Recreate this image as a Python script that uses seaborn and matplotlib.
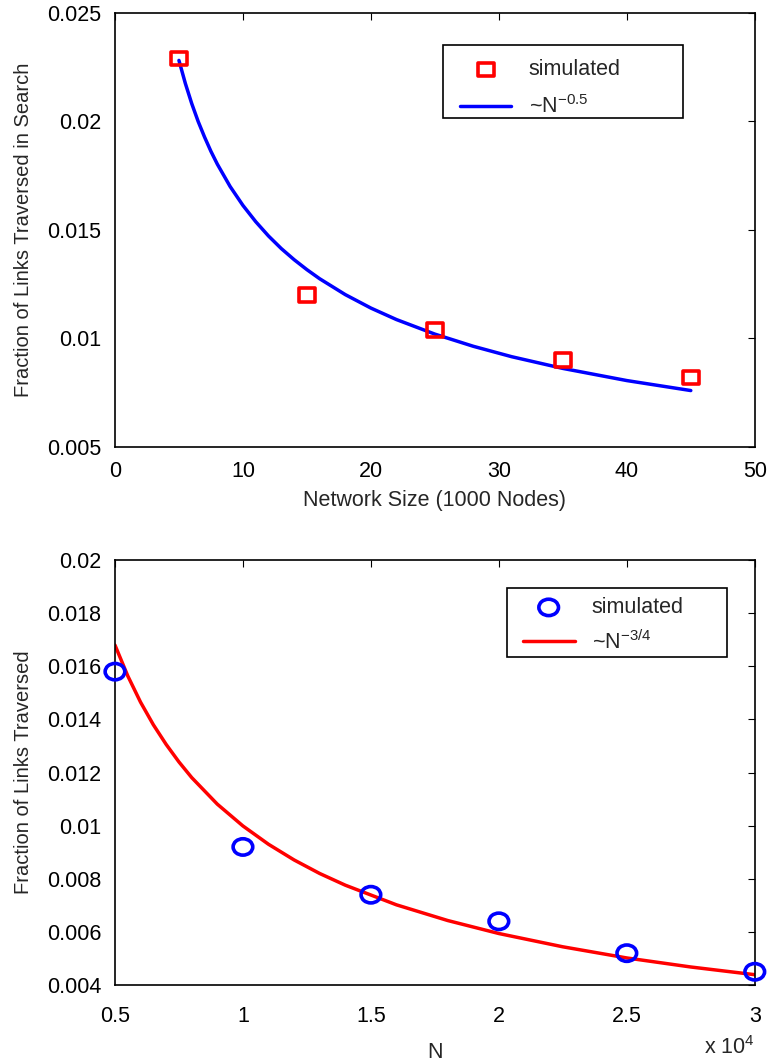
import numpy as np
import pandas as pd
import matplotlib
matplotlib.use("Agg")
import matplotlib.pyplot as plt
import seaborn as sns
from matplotlib.path import Path
from matplotlib.transforms import Affine2D
from matplotlib.patches import Rectangle

# top panel: network size in thousands of nodes
top_sim_x = [5, 15, 25, 35, 45]
top_sim_y = [0.0229, 0.0120, 0.0104, 0.0090, 0.0082]
top_fit_x = [5, 5.5, 6, 6.5, 7, 7.5, 8, 9, 10, 11, 12, 13, 14, 15, 16,
             18, 20, 22, 25, 28, 31, 35, 40, 45]
top_fit_y = [0.02281, 0.02175, 0.02082, 0.02000, 0.01928, 0.01862, 0.01803,
             0.01700, 0.01613, 0.01538, 0.01472, 0.01414, 0.01363, 0.01317,
             0.01275, 0.01202, 0.01140, 0.01087, 0.01020, 0.00964, 0.00916,
             0.00862, 0.00806, 0.00760]

# bottom panel: N
bot_sim_x = [5000, 10000, 15000, 20000, 25000, 30000]
bot_sim_y = [0.0158, 0.0092, 0.0074, 0.0064, 0.0052, 0.0045]
bot_fit_x = [5000, 5500, 6000, 6500, 7000, 7500, 8000, 9000, 10000, 11000,
             12000, 13000, 14000, 16000, 18000, 20000, 22500, 25000, 27500,
             30000]
bot_fit_y = [0.01680, 0.01564, 0.01465, 0.01380, 0.01306, 0.01240, 0.01181,
             0.01081, 0.00999, 0.00930, 0.00871, 0.00820, 0.00776, 0.00702,
             0.00643, 0.00594, 0.00544, 0.00502, 0.00468, 0.00439]

sns.set_style("white")
plt.rcParams["font.family"] = ["Liberation Sans", "DejaVu Sans"]
plt.rcParams["mathtext.fontset"] = "custom"
plt.rcParams["mathtext.rm"] = "Liberation Sans"

FS = 15.5   # ticks, legend, x labels
YFS = 14.5  # y labels

# markers in the original are a bit wider than tall
wide = Affine2D().scale(1.2, 1.0)
sq_marker = Path.unit_rectangle().transformed(Affine2D().translate(-0.5, -0.5) + wide)
ell_marker = Path.unit_circle().transformed(wide)

fig = plt.figure(figsize=(7.69, 10.64), dpi=100)
ax1 = fig.add_axes([0.1495, 0.5799, 0.832, 0.408])
ax2 = fig.add_axes([0.1495, 0.0742, 0.832, 0.3994])


def style_axes(ax, xpad):
    for s in ax.spines.values():
        s.set_color("black")
        s.set_linewidth(1.2)
    ax.tick_params(direction="in", length=5, width=0.8, labelsize=FS,
                   top=True, right=True, colors="black")
    ax.tick_params(axis="y", pad=10)
    ax.tick_params(axis="x", pad=xpad)


def make_legend(ax, box, anchor, spacing):
    h, l = ax.get_legend_handles_labels()
    ax.legend(h[::-1], l[::-1], loc="upper left", bbox_to_anchor=anchor,
              fontsize=FS, frameon=False, borderpad=0, borderaxespad=0,
              handlelength=2.4, handletextpad=0.8, labelspacing=spacing)
    x0, y0, w, hgt = box
    ax.add_patch(Rectangle((x0, y0), w, hgt, transform=ax.transAxes,
                           facecolor="white", edgecolor="black", lw=1.2,
                           zorder=4))
    ax.get_legend().set_zorder(5)


# top
sns.lineplot(x=top_fit_x, y=top_fit_y, ax=ax1, color="#0000ff", lw=2.5,
             label=r"~N$^{\mathregular{-0.5}}$", sort=False)
sns.scatterplot(x=top_sim_x, y=top_sim_y, ax=ax1, marker=sq_marker, s=135,
                facecolor="none", edgecolor="#ff0000", linewidth=2.6,
                label="simulated", zorder=3)
ax1.set_xlim(0, 50)
ax1.set_ylim(0.005, 0.025)
ax1.set_xticks([0, 10, 20, 30, 40, 50])
ax1.set_yticks([0.005, 0.01, 0.015, 0.02, 0.025])
ax1.set_yticklabels(["0.005", "0.01", "0.015", "0.02", "0.025"])
ax1.set_xlabel("Network Size (1000 Nodes)", fontsize=FS, labelpad=6)
ax1.set_ylabel("Fraction of Links Traversed in Search", fontsize=YFS, labelpad=10)
style_axes(ax1, 10)
make_legend(ax1, (0.5125, 0.758, 0.375, 0.168), (0.539, 0.893), 0.7)

# bottom
sns.lineplot(x=bot_fit_x, y=bot_fit_y, ax=ax2, color="#ff0000", lw=2.5,
             label=r"~N$^{\mathregular{-3/4}}$", sort=False)
sns.scatterplot(x=bot_sim_x, y=bot_sim_y, ax=ax2, marker=ell_marker, s=200,
                facecolor="none", edgecolor="#0000ff", linewidth=2.6,
                label="simulated", zorder=3, clip_on=False)
ax2.set_xlim(5000, 30000)
ax2.set_ylim(0.004, 0.02)
ax2.set_xticks([5000, 10000, 15000, 20000, 25000, 30000])
ax2.set_xticklabels(["0.5", "1", "1.5", "2", "2.5", "3"])
ax2.set_yticks([0.004, 0.006, 0.008, 0.01, 0.012, 0.014, 0.016, 0.018, 0.02])
ax2.set_yticklabels(["0.004", "0.006", "0.008", "0.01", "0.012", "0.014",
                     "0.016", "0.018", "0.02"])
ax2.set_xlabel("N", fontsize=FS, labelpad=11)
ax2.set_ylabel("Fraction of Links Traversed", fontsize=YFS, labelpad=10)
style_axes(ax2, 15)
ax2.text(1.0, -0.148, r"x 10$^{\mathregular{4}}$", transform=ax2.transAxes,
         ha="right", va="center", fontsize=FS)
make_legend(ax2, (0.6125, 0.772, 0.344, 0.162), (0.6375, 0.913), 0.55)

fig.savefig("out.png", dpi=100)
